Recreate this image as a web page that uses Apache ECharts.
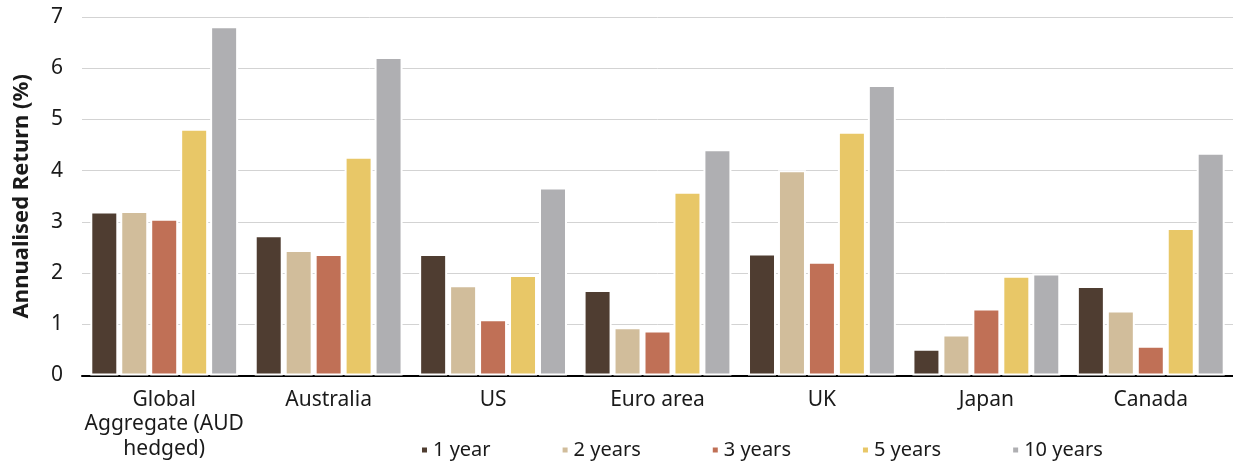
<!DOCTYPE html>
<html>
<head>
<meta charset="utf-8">
<script src="https://cdn.jsdelivr.net/npm/echarts@6/dist/echarts.min.js"></script>
<style>
html,body{margin:0;padding:0;background:#fff;}
#chart{width:1233px;height:461px;}
</style>
</head>
<body>
<div id="chart"></div>
<script>
const categories = ['Global\nAggregate (AUD\nhedged)', 'Australia', 'US', 'Euro area', 'UK', 'Japan', 'Canada'];
const seriesNames = ['1 year', '2 years', '3 years', '5 years', '10 years'];
const oneYear   = [3.20, 2.74, 2.37, 1.67, 2.38, 0.52, 1.75];
const twoYears  = [3.21, 2.45, 1.76, 0.94, 4.01, 0.80, 1.27];
const threeYears= [3.06, 2.37, 1.10, 0.88, 2.22, 1.31, 0.58];
const fiveYears = [4.82, 4.27, 1.96, 3.59, 4.76, 1.95, 2.88];
const tenYears  = [6.82, 6.22, 3.67, 4.42, 5.67, 1.99, 4.35];
const yTicks = [0, 1, 2, 3, 4, 5, 6, 7];

const colors = ['#4F3D31', '#D1BD9B', '#C07056', '#E8C767', '#AFAFB2'];
const values = [oneYear, twoYears, threeYears, fiveYears, tenYears];
const font = '"Noto Sans", "Open Sans", sans-serif';

const chart = echarts.init(document.getElementById('chart'), null, {renderer: 'canvas'});
chart.setOption({
  animation: false,
  color: colors,
  textStyle: {fontFamily: font, color: '#1a1a1a'},
  grid: {left: 82, right: 0, top: 17, bottom: 85.5, containLabel: false},
  legend: {
    data: seriesNames,
    left: 420,
    top: 440,
    padding: 0,
    icon: 'rect',
    itemWidth: 7,
    itemHeight: 7,
    itemGap: 70,
    textStyle: {fontFamily: font, fontSize: 20, color: '#1a1a1a', padding: [0, 0, 0, 0]}
  },
  xAxis: {
    type: 'category',
    data: categories,
    axisLine: {show: true, lineStyle: {color: '#000', width: 2}},
    axisTick: {show: false},
    axisLabel: {fontFamily: font, fontSize: 21, color: '#1a1a1a', margin: 12, lineHeight: 24.5, interval: 0}
  },
  yAxis: {
    type: 'value',
    min: yTicks[0],
    max: yTicks[yTicks.length - 1],
    interval: 1,
    name: 'Annualised Return (%)',
    nameLocation: 'middle',
    nameGap: 49,
    nameTextStyle: {fontFamily: font, fontSize: 22, fontWeight: 'bold', color: '#1a1a1a'},
    axisLine: {show: false},
    axisTick: {show: false},
    axisLabel: {fontFamily: font, fontSize: 21, color: '#1a1a1a', margin: 19},
    splitLine: {show: true, lineStyle: {color: '#d3d3d3', width: 1}}
  },
  series: seriesNames.map((name, i) => ({
    name: name,
    type: 'bar',
    data: values[i],
    barWidth: 28,
    barGap: '7%',
    itemStyle: {color: colors[i], borderColor: '#ffffff', borderWidth: 2}
  }))
});
</script>
</body>
</html>
